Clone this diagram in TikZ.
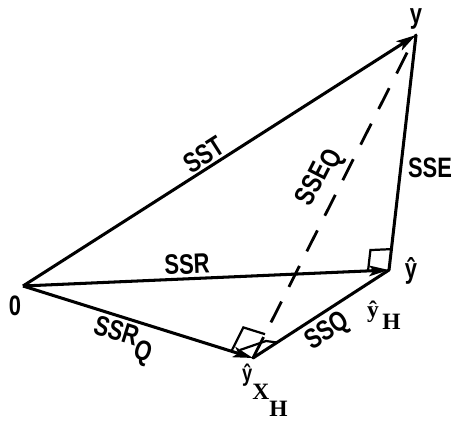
\documentclass[tikz,border=0pt]{standalone}
\usepackage{fontspec}
\usetikzlibrary{arrows.meta,calc}
\newfontfamily\letterfont[FakeStretch=0.78]{Liberation Sans}
\newfontfamily\tagfont{Liberation Serif}
\tikzset{
  vec/.style={-{Stealth[length=6mm,width=3.2mm,inset=1.4mm]},line width=2.6pt,
              line join=round},
  seg/.style={line width=2.6pt,line cap=round},
  dashseg/.style={line width=2.4pt,dash pattern=on 20pt off 14pt},
  rmark/.style={line width=1.9pt},
  lettering/.style={font=\letterfont\bfseries\fontsize{24}{28}\selectfont,
                    inner sep=0pt},
  tag/.style={font=\tagfont\bfseries\fontsize{20}{24}\selectfont,inner sep=0pt}
}

\begin{document}
\begin{tikzpicture}[x=0.03cm,y=0.03cm]
  \path[use as bounding box] (0,0) rectangle (459,421);
  % points
  \coordinate (o) at (23,135);
  \coordinate (y) at (416,386);
  \coordinate (yh) at (389,151);
  \coordinate (yx) at (253,63);

  % vectors and sides
  \draw[vec] (o) -- (y);
  \draw[vec] (o) -- (yh);
  \draw[vec] (o) -- (yx);
  \draw[seg] (yx) -- (yh);
  \draw[seg] (yh) -- (y);
  \draw[dashseg] (yx) -- (y);

  % right angles
  \coordinate (ra) at ($(yh)!0.63cm!(o)$);
  \coordinate (rb) at ($(yh)!0.63cm!(y)$);
  \draw[rmark] (ra) -- ($(ra)+(rb)-(yh)$) -- (rb);
  \coordinate (qa) at ($(yx)!0.68cm!(o)$);
  \coordinate (qb) at ($(yx)!0.8cm!(y)$);
  \draw[rmark] (qa) -- ($(qa)+(qb)-(yx)$) -- (qb);
  \draw[rmark] (240,71) -- (266,80) -- (277,78.5);

  % labels
  \node[lettering,rotate=32.6] (sst) at (204,266) {SST};
  \node[lettering,rotate=2.5] (ssr) at (187,157) {SSR};
  \node[lettering] (sse) at (430,253) {SSE};
  \node[lettering,rotate=63] (sseq) at (321,243) {SSE\raisebox{-.2em}{Q}};
  \node[lettering,rotate=-17.4] (ssrq) at (123,80) {SSR\raisebox{-.4em}{Q}};
  \node[lettering,rotate=33] (ssq) at (328,89) {SSQ};
  \node[lettering] (lo) at (15,115) {0};
  \node[lettering] (ly) at (416,402) {y};
  \node[lettering] (lyh) at (411,150) {ŷ};
  \node[tag,anchor=base west] (lyhh) at (367,104)
    {ŷ\kern3pt\raisebox{-11pt}{H}};
  \node[tag,anchor=base west] (lyx) at (242,40)
    {{\letterfont ŷ}\raisebox{-16pt}{X\raisebox{-14pt}{H}}};
\end{tikzpicture}
\end{document}
